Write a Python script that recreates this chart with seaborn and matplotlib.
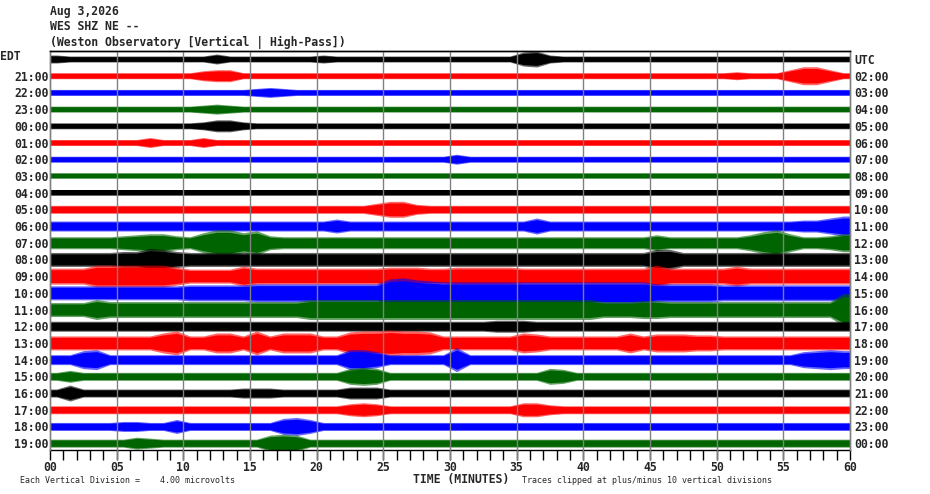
import numpy as np
import pandas as pd
import matplotlib
matplotlib.use("Agg")
import matplotlib.pyplot as plt
from matplotlib.ticker import MultipleLocator
import seaborn as sns

# ------------------------------
# Data read off the helicorder
# ------------------------------

edt_labels = ["EDT", "21:00", "22:00", "23:00", "00:00", "01:00", "02:00", "03:00",
              "04:00", "05:00", "06:00", "07:00", "08:00", "09:00", "10:00", "11:00",
              "12:00", "13:00", "14:00", "15:00", "16:00", "17:00", "18:00", "19:00"]
utc_labels = ["UTC", "02:00", "03:00", "04:00", "05:00", "06:00", "07:00", "08:00",
              "09:00", "10:00", "11:00", "12:00", "13:00", "14:00", "15:00", "16:00",
              "17:00", "18:00", "19:00", "20:00", "21:00", "22:00", "23:00", "00:00"]
minute_labels = ["00", "05", "10", "15", "20", "25", "30", "35", "40", "45", "50", "55", "60"]

# half-height of each trace per minute (pixels of the original plot)
amp_rows = [
    [4,3,3,3,3,3,3,3,3,3, 3,3,5,3,3,3,3,3,3,3, 4,3,3,3,3,3,3,3,3,3, 3,3,3,3,3,7,8,4,3,3, 3,3,3,3,3,3,3,3,3,3, 3,3,3,3,3,3,3,3,3,3],
    [3,3,3,3,3,3,3,3,3,3, 3,5,6,6,3,3,3,3,3,3, 3,3,3,3,3,3,3,3,3,3, 3,3,3,3,3,3,3,3,3,3, 3,3,3,3,3,3,3,3,3,3, 3,4,3,3,3,6,9,9,6,3],
    [3,3,3,3,3,3,3,3,3,3, 3,3,3,3,3,4,5,4,3,3, 3,3,3,3,3,3,3,3,3,3, 3,3,3,3,3,3,3,3,3,3, 3,3,3,3,3,3,3,3,3,3, 3,3,3,3,3,3,3,3,3,3],
    [3,3,3,3,3,3,3,3,3,3, 3,4,5,4,3,3,3,3,3,3, 3,3,3,3,3,3,3,3,3,3, 3,3,3,3,3,3,3,3,3,3, 3,3,3,3,3,3,3,3,3,3, 3,3,3,3,3,3,3,3,3,3],
    [3,3,3,3,3,3,3,3,3,3, 3,4,6,6,4,3,3,3,3,3, 3,3,3,3,3,3,3,3,3,3, 3,3,3,3,3,3,3,3,3,3, 3,3,3,3,3,3,3,3,3,3, 3,3,3,3,3,3,3,3,3,3],
    [3,3,3,3,3,3,3,5,3,3, 3,5,3,3,3,3,3,3,3,3, 3,3,3,3,3,3,3,3,3,3, 3,3,3,3,3,3,3,3,3,3, 3,3,3,3,3,3,3,3,3,3, 3,3,3,3,3,3,3,3,3,3],
    [3,3,3,3,3,3,3,3,3,3, 3,3,3,3,3,3,3,3,3,3, 3,3,3,3,3,3,3,3,3,3, 5,3,3,3,3,3,3,3,3,3, 3,3,3,3,3,3,3,3,3,3, 3,3,3,3,3,3,3,3,3,3],
    [3,3,3,3,3,3,3,3,3,3, 3,3,3,3,3,3,3,3,3,3, 3,3,3,3,3,3,3,3,3,3, 3,3,3,3,3,3,3,3,3,3, 3,3,3,3,3,3,3,3,3,3, 3,3,3,3,3,3,3,3,3,3],
    [3,3,3,3,3,3,3,3,3,3, 3,3,3,3,3,3,3,3,3,3, 3,3,3,3,3,3,3,3,3,3, 3,3,3,3,3,3,3,3,3,3, 3,3,3,3,3,3,3,3,3,3, 3,3,3,3,3,3,3,3,3,3],
    [4,4,4,4,4,4,4,4,4,4, 4,4,4,4,4,4,4,4,4,4, 4,4,4,4,6,8,8,5,4,4, 4,4,4,4,4,4,4,4,4,4, 4,4,4,4,4,4,4,4,4,4, 4,4,4,4,4,4,4,4,4,4],
    [5,5,5,5,5,5,5,5,5,5, 5,5,5,5,5,5,5,5,5,5, 5,7,5,5,5,5,5,5,5,5, 5,5,5,5,5,5,8,5,5,5, 5,5,5,5,5,5,5,5,5,5, 5,5,5,5,5,5,6,6,8,10],
    [6,6,6,6,6,7,8,9,9,7, 6,10,13,13,10,12,7,6,6,6, 6,6,6,6,6,6,6,6,6,6, 6,6,6,6,6,6,6,6,6,6, 6,6,6,6,6,8,6,6,6,6, 6,6,8,11,13,9,6,6,7,9],
    [7,7,7,7,7,8,8,11,10,8, 7,7,7,7,7,7,7,7,7,7, 7,7,7,7,7,7,7,7,7,7, 7,7,7,7,7,7,7,7,7,7, 7,7,7,7,7,10,10,7,7,7, 7,7,7,7,7,7,7,7,7,7],
    [8,8,8,11,11,11,11,11,11,9, 7,7,7,7,10,8,8,8,8,8, 8,8,8,8,8,9,9,9,8,8, 9,9,9,9,9,8,8,8,8,8, 8,8,8,8,8,11,8,8,8,8, 8,10,8,8,8,8,8,8,8,8],
    [7,7,7,7,7,7,7,7,7,7, 8,8,8,8,8,9,9,9,9,9, 9,9,9,9,9,14,15,13,12,11, 11,11,11,11,11,11,11,11,11,11, 11,11,11,11,11,9,9,9,9,9, 8,8,8,8,8,8,8,8,8,8],
    [7,7,7,10,8,8,8,8,8,8, 8,8,8,8,8,8,8,8,8,10, 10,10,10,10,10,10,10,10,10,10, 10,10,10,10,10,10,10,10,10,10, 10,8,8,8,9,9,8,8,8,8, 8,8,8,8,8,8,8,8,8,16],
    [5,5,5,5,5,5,5,5,5,5, 5,5,5,5,5,5,5,5,5,5, 5,5,5,5,5,5,5,5,5,5, 5,5,5,6,6,6,5,5,5,5, 5,5,5,5,5,5,5,5,5,5, 5,5,5,5,5,5,5,5,5,5],
    [7,7,7,7,7,7,7,7,10,12, 7,7,10,10,7,12,7,10,10,10, 7,7,11,12,12,13,12,12,11,7, 7,7,7,7,7,10,9,7,7,7, 7,7,7,10,7,9,9,9,8,8, 7,7,7,7,7,7,7,7,7,7],
    [5,5,9,10,5,5,5,5,5,5, 5,5,5,5,5,5,5,5,5,5, 5,5,10,10,8,5,5,5,5,5, 12,5,5,5,5,5,5,5,5,5, 5,5,5,5,5,5,5,5,5,5, 5,5,5,5,5,5,8,9,10,9],
    [4,6,4,4,4,4,4,4,4,4, 4,4,4,4,4,4,4,4,4,4, 4,4,8,9,8,4,4,4,4,4, 4,4,4,4,4,4,4,8,7,4, 4,4,4,4,4,4,4,4,4,4, 4,4,4,4,4,4,4,4,4,4],
    [4,8,4,4,4,4,4,4,4,4, 4,4,4,4,5,5,5,4,4,4, 4,4,6,6,6,4,4,4,4,4, 4,4,4,4,4,4,4,4,4,4, 4,4,4,4,4,4,4,4,4,4, 4,4,4,4,4,4,4,4,4,4],
    [4,4,4,4,4,4,4,4,4,4, 4,4,4,4,4,4,4,4,4,4, 4,4,6,7,6,4,4,4,4,4, 4,4,4,4,4,7,7,5,4,4, 4,4,4,4,4,4,4,4,4,4, 4,4,4,4,4,4,4,4,4,4],
    [4,4,4,4,4,5,5,4,4,7, 4,4,4,4,4,4,4,8,9,7, 4,4,4,4,4,4,4,4,4,4, 4,4,4,4,4,4,4,4,4,4, 4,4,4,4,4,4,4,4,4,4, 4,4,4,4,4,4,4,4,4,4],
    [4,4,4,4,4,4,6,5,4,4, 4,4,4,4,4,4,8,9,8,4, 4,4,4,4,4,4,4,4,4,4, 4,4,4,4,4,4,4,4,4,4, 4,4,4,4,4,4,4,4,4,4, 4,4,4,4,4,4,4,4,4,4],
]

trace_colors = ["#000000", "#ff0000", "#0000ff", "#006400"]

# ------------------------------
# Build long table
# ------------------------------

minutes = np.arange(60)
records = []
for row, amps in enumerate(amp_rows):
    for m, a in zip(minutes, amps):
        records.append({"row": row, "minute": m, "amp": a})
df = pd.DataFrame(records)

ROW_PX = 16.7   # pixel spacing between traces
CORE = 0.8      # solid part of the band, rest drawn as ragged fringe

# ------------------------------
# Plot
# ------------------------------

sns.set_theme(style="white")
plt.rcParams["font.family"] = ["DejaVu Sans Mono", "DejaVu Sans"]

fig = plt.figure(figsize=(9.3, 4.94), dpi=100)
ax = fig.add_axes([50 / 930, 44 / 494, 800 / 930, 399 / 494])

for row, grp in df.groupby("row"):
    amps = grp["amp"].values / ROW_PX
    x = np.concatenate([[0], grp["minute"].values + 0.5, [60]])
    a = np.concatenate([[amps[0]], amps, [amps[-1]]])
    col = trace_colors[row % 4]
    z = 2 + row * 0.01
    ax.fill_between(x, row - a, row + a, color=col, alpha=0.6, linewidth=0, zorder=z)
    ax.fill_between(x, row - a * CORE, row + a * CORE, color=col, linewidth=0, zorder=z)

for m in range(5, 60, 5):
    ax.axvline(m, ymin=-0.022, color="#808080", linewidth=1, zorder=5, clip_on=False)

ax.set_xlim(0, 60)
ax.set_ylim(23.41, -0.48)

ax.set_xticks(np.arange(0, 61, 5))
ax.set_xticklabels(minute_labels, fontsize=8.3, fontweight="bold")
ax.xaxis.set_minor_locator(MultipleLocator(1))
ax.tick_params(axis="x", which="both", direction="out", length=7, width=1,
               color="black", bottom=True, pad=1)

ax.set_yticks(range(24))
ax.set_yticklabels([""] + edt_labels[1:], fontsize=8.3, fontweight="bold")
ax.tick_params(axis="y", which="both", left=False, right=False, length=0, pad=1)

ax2 = ax.twinx()
ax2.set_ylim(ax.get_ylim())
ax2.set_yticks(range(24))
ax2.set_yticklabels(utc_labels, fontsize=8.3, fontweight="bold")
ax2.tick_params(axis="y", which="both", left=False, right=False, length=0, pad=3)

for a_ in (ax, ax2):
    for name, s in a_.spines.items():
        s.set_linewidth(1)
        s.set_color("#808080" if name in ("left", "right") else "black")
ax2.spines["bottom"].set_visible(False)

fig.text(0 / 930, 1 - 56 / 494, "EDT", fontsize=8.3, fontweight="bold", va="center", ha="left")

fig.text(50 / 930, 1 - 12 / 494, "Aug 3,2026", fontsize=8.3, fontweight="bold", va="center")
fig.text(50 / 930, 1 - 27 / 494, "WES SHZ NE --", fontsize=8.3, fontweight="bold", va="center")
fig.text(50 / 930, 1 - 42 / 494, "(Weston Observatory [Vertical | High-Pass])",
         fontsize=8.3, fontweight="bold", va="center")

fig.text(20 / 930, 1 - 480 / 494, "Each Vertical Division =    4.00 microvolts",
         fontsize=6, va="center")
fig.text(413 / 930, 1 - 479 / 494, "TIME (MINUTES)", fontsize=8.3, fontweight="bold",
         va="center")
fig.text(522 / 930, 1 - 480 / 494, "Traces clipped at plus/minus 10 vertical divisions",
         fontsize=6, va="center")

fig.savefig("out.png", dpi=100, facecolor="white")
